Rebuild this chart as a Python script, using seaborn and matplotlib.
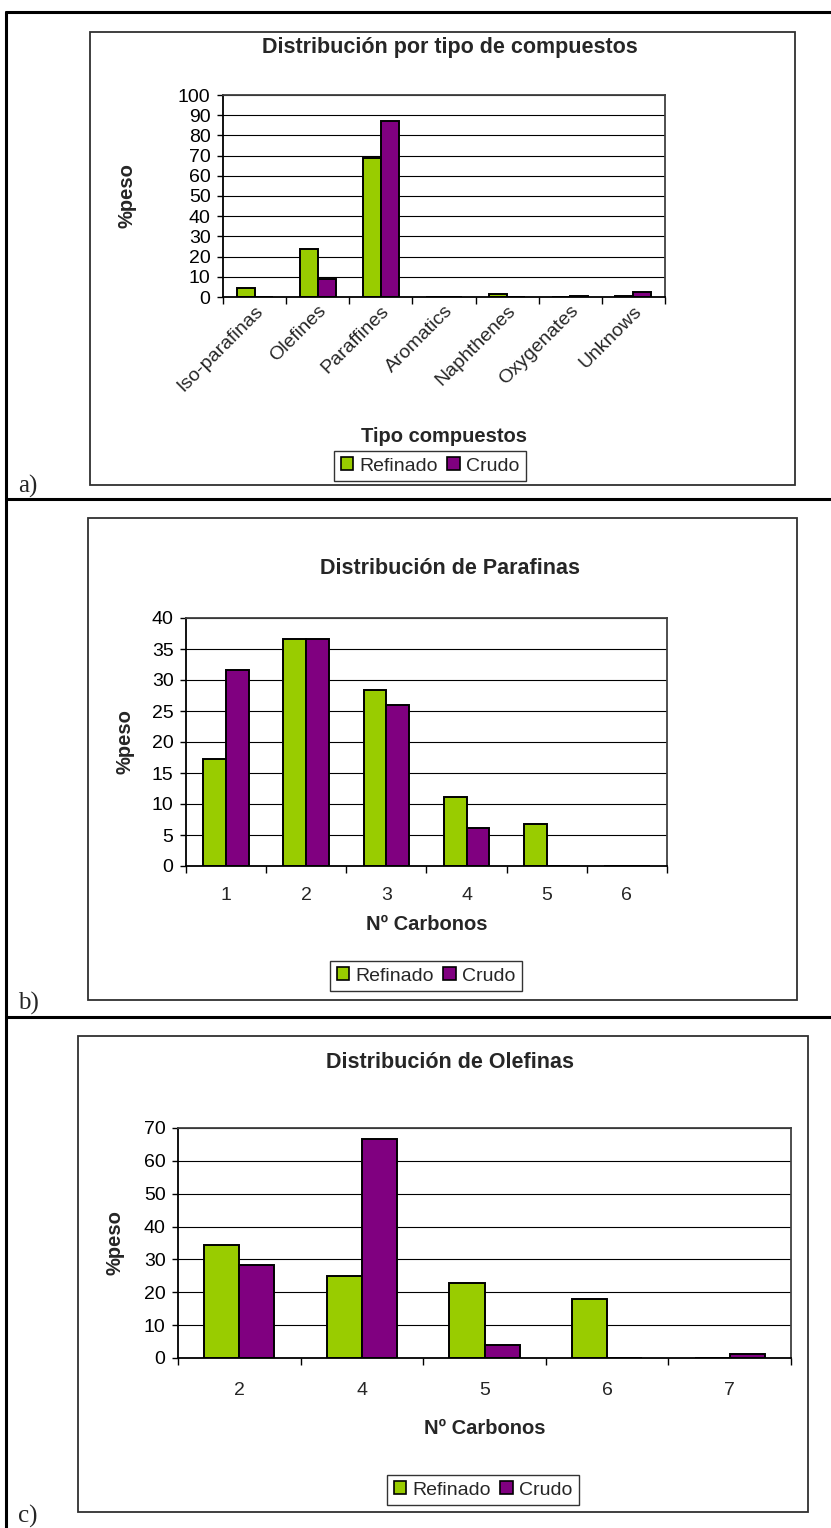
import numpy as np
import pandas as pd
import matplotlib
matplotlib.use("Agg")
import matplotlib.pyplot as plt
import seaborn as sns
from matplotlib.patches import Rectangle, Patch
from matplotlib.lines import Line2D

sns.set_theme(style="white")
plt.rcParams['font.family'] = ['Liberation Sans', 'DejaVu Sans']

# ---- data -------------------------------------------------------------
series = ["Refinado", "Crudo"]
colors = ["#99CC00", "#800080"]

tipos = ["Iso-parafinas", "Olefines", "Paraffines", "Aromatics",
         "Naphthenes", "Oxygenates", "Unknows"]
tipos_refinado = [4.6, 24.0, 68.8, 0.0, 1.6, 0.0, 0.5]
tipos_crudo = [0.0, 9.1, 87.3, 0.0, 0.0, 0.5, 2.4]

parafinas_c = ["1", "2", "3", "4", "5", "6"]
parafinas_refinado = [17.3, 36.6, 28.4, 11.2, 6.7, 0.0]
parafinas_crudo = [31.6, 36.6, 26.0, 6.2, 0.0, 0.0]

olefinas_c = ["2", "4", "5", "6", "7"]
olefinas_refinado = [34.4, 24.9, 22.8, 18.1, 0.0]
olefinas_crudo = [28.4, 66.7, 4.0, 0.0, 1.1]

# ---- figure -----------------------------------------------------------
W, H = 831, 1528
fig = plt.figure(figsize=(W / 100, H / 100), dpi=100)
fig.patch.set_facecolor("white")


def fx(x):
    return x / W


def fy(y):
    return 1 - y / H


def hline(y, x0, x1, lw=2.2, color="black"):
    fig.add_artist(Line2D([fx(x0), fx(x1)], [fy(y), fy(y)],
                          transform=fig.transFigure, color=color, lw=lw))


def vline(x, y0, y1, lw=2.2, color="black"):
    fig.add_artist(Line2D([fx(x), fx(x)], [fy(y0), fy(y1)],
                          transform=fig.transFigure, color=color, lw=lw))


def box(x0, y0, x1, y1):
    fig.add_artist(Rectangle((fx(x0), fy(y1)), fx(x1) - fx(x0), fy(y0) - fy(y1),
                             transform=fig.transFigure, fill=False,
                             edgecolor="#303030", lw=1.3))


# table frame
hline(12, 6, W)
hline(499, 6, W)
hline(1017, 6, W)
vline(6, 12, H)


def panel(axrect, boxrect, cats, ref, cru, ymax, ystep, title, title_y,
          xlabel, xlabel_y, legend_c, ylabel_x, tag, tag_y, rotate=False,
          xpad=13):
    x0, y0, x1, y1 = axrect
    box(*boxrect)
    ax = fig.add_axes([fx(x0), fy(y1), fx(x1) - fx(x0), fy(y0) - fy(y1)])
    n = len(cats)
    df = pd.DataFrame({
        "cat": cats * 2,
        "serie": [series[0]] * n + [series[1]] * n,
        "val": list(ref) + list(cru),
    })
    sns.barplot(data=df, x="cat", y="val", hue="serie", hue_order=series,
                order=cats, palette=colors, saturation=1, width=2 / 3.5,
                edgecolor="black", linewidth=1.4, ax=ax, legend=False,
                errorbar=None)
    ax.set_xlim(-0.5, n - 0.5)
    ax.set_ylim(0, ymax)
    ax.set_yticks(np.arange(0, ymax + 0.1, ystep))
    ax.set_yticklabels([f"{int(v)}" for v in np.arange(0, ymax + 0.1, ystep)])
    ax.yaxis.grid(True, color="black", lw=0.8)
    ax.xaxis.grid(False)
    ax.set_axisbelow(True)
    ax.set_xlabel("")
    ax.set_ylabel("")
    for s in ["left", "bottom"]:
        ax.spines[s].set_color("black")
        ax.spines[s].set_linewidth(1.3)
    for s in ["top", "right"]:
        ax.spines[s].set_color("#404040")
        ax.spines[s].set_linewidth(1.3)
    ax.tick_params(axis="y", left=True, length=4, width=1, direction="out",
                   pad=5, labelsize=14, colors="black")
    ax.set_xticks(np.arange(-0.5, n, 1), minor=True)
    ax.tick_params(axis="x", which="minor", bottom=True, length=5, width=1,
                   direction="out", color="black")
    if rotate:
        ax.tick_params(axis="x", which="major", bottom=False, length=0,
                       pad=4, labelsize=14)
        for lab in ax.get_xticklabels():
            lab.set_rotation(45)
            lab.set_ha("right")
            lab.set_rotation_mode("anchor")
    else:
        ax.tick_params(axis="x", which="major", bottom=False, length=0,
                       pad=xpad, labelsize=14)
    cx = (x0 + x1) / 2
    fig.text(fx(450), fy(title_y), title, ha="center", va="center",
             fontsize=15.5, fontweight="bold")
    fig.text(fx(cx), fy(xlabel_y), xlabel, ha="center", va="center",
             fontsize=14.5, fontweight="bold")
    fig.text(fx(ylabel_x), fy((y0 + y1) / 2), "%peso", ha="center",
             va="center", rotation=90, fontsize=14.5, fontweight="bold")
    handles = [Patch(facecolor=c, edgecolor="black", lw=1.2) for c in colors]
    leg = fig.legend(handles, series, loc="center",
                     bbox_to_anchor=(fx(legend_c[0]), fy(legend_c[1])),
                     ncol=2, frameon=True, fancybox=False, fontsize=14,
                     handlelength=0.65, handleheight=0.65, handletextpad=0.3,
                     columnspacing=0.5, borderpad=0.35, borderaxespad=0)
    leg.get_frame().set_edgecolor("black")
    leg.get_frame().set_linewidth(1.0)
    fig.text(fx(18), fy(tag_y), tag, ha="left", va="baseline",
             fontsize=18, family="Liberation Serif")
    return ax


panel((223, 95, 665, 297), (90, 32, 795, 485), tipos, tipos_refinado,
      tipos_crudo, 100, 10, "Distribución por tipo de compuestos", 48,
      "Tipo compuestos", 437, (430, 466), 127, "a)", 493, rotate=True)

panel((186, 618, 667, 866), (88, 518, 797, 1000), parafinas_c,
      parafinas_refinado, parafinas_crudo, 40, 5, "Distribución de Parafinas",
      568, "Nº Carbonos", 925, (426, 976), 125, "b)", 1010, xpad=15)

panel((178, 1128, 791, 1358), (78, 1036, 808, 1512), olefinas_c,
      olefinas_refinado, olefinas_crudo, 70, 10, "Distribución de Olefinas",
      1063, "Nº Carbonos", 1428, (483, 1490), 115, "c)", 1523, xpad=17)

fig.savefig("out.png", dpi=100, facecolor="white")
